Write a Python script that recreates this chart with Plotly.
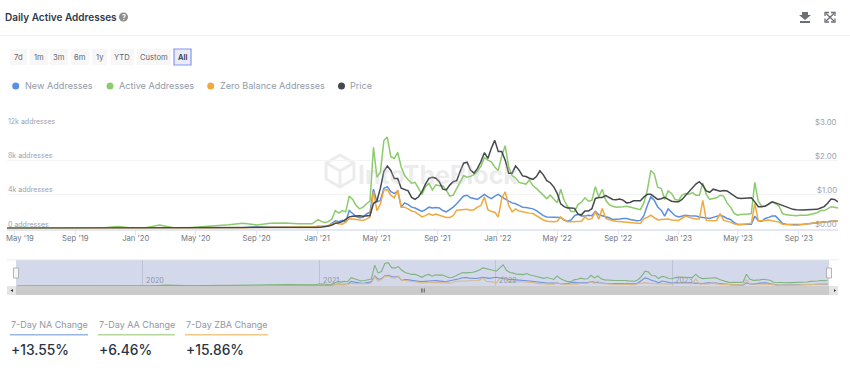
import pandas as pd
import plotly.graph_objects as go

W, H = 850, 375
FONT = "Inter"

early_dates = pd.date_range("2019-04-16", periods=23, freq="28D")
weekly_dates = pd.date_range("2021-01-03", periods=151, freq="7D")
dates = list(early_dates) + list(weekly_dates)

active_early = [30,30,60,40,50,60,40,80,230,60,100,400,90,70,200,300,430,600,420,600,650,560,550]
new_early = [10,10,15,15,20,20,20,20,30,25,40,60,30,30,40,50,70,100,200,150,170,150,150]
zero_early = [60,30,20,20,20,20,20,30,60,25,30,50,20,20,30,60,50,60,120,130,120,180,170]
price_early = [.01,.01,.01,.01,.01,.01,.01,.01,.02,.02,.02,.02,.02,.02,.02,.02,.02,.02,.03,.03,.03,.03,.03]

active_weekly = [1050,800,700,800,1100,2100,1800,2100,1950,3800,3400,2700,2300,2500,2900,3200,9500,6000,6600,10300,
 10700,8400,8200,8900,7200,6200,5700,5300,5400,4700,4000,4900,5300,4500,5100,5000,5000,4500,3800,3900,
 4700,5400,6200,6000,6100,6300,6700,7300,8300,8000,7800,7200,6800,8500,9700,7200,6200,5900,5400,5300,
 5200,5700,5000,4700,4300,3900,3500,3900,3500,3000,4600,3300,2600,2000,2000,2800,3100,3600,3200,3300,
 4900,3700,4600,3300,2800,2600,2500,2500,2550,2600,2500,2350,2250,2200,3000,4500,6800,6400,4800,4700,
 3400,4400,4100,3400,3300,3900,4100,4000,4200,3900,3900,5300,4000,3400,3500,3600,3900,3800,3000,2500,
 1800,1550,1650,1650,1700,1750,5400,3200,2600,2650,2800,3100,2900,2600,1750,1600,1550,1500,1500,1550,
 1550,1550,1650,1750,1850,2100,2100,2300,2550,2500,2400]
new_weekly = [250,230,250,300,550,900,800,950,800,2100,1750,1400,1250,1300,1700,1900,4600,3100,3300,4700,
 4900,4300,4100,4400,2500,3000,2800,2500,2400,2200,2000,2200,2500,2400,2450,2400,2100,1950,2200,2500,
 2900,3300,3800,3900,3600,3500,3400,3700,4000,3700,3500,3800,4000,3700,3400,3200,3000,2900,2700,2500,
 2450,2400,2300,2100,1750,1500,1350,1350,1350,1350,1300,1000,850,1000,1500,1650,1450,1450,1550,1500,
 2000,1600,1500,1400,1250,1050,1050,1100,1170,1170,1050,950,900,950,1500,2700,3700,3300,2500,2150,
 1450,2300,1900,1500,1350,1450,1550,1500,1500,1450,1350,1300,1200,1170,1300,1450,1550,1400,1170,1050,
 700,470,470,480,500,500,1450,900,850,1170,1300,1450,1450,1000,600,500,480,470,470,480,
 500,530,550,580,620,680,720,780,850,880,900]
zero_weekly = [200,180,200,350,500,650,550,500,750,1150,1100,1050,1000,950,1100,1350,4300,2100,2900,4500,
 4550,3900,3600,4500,2500,2500,2300,2050,1950,1600,1350,1500,1750,1550,1700,1550,1400,1300,1300,1500,
 2150,2200,2250,2250,2150,2200,2500,2700,3700,2200,2000,1900,1350,3500,4300,2700,1950,2300,2050,1950,
 1900,1800,1750,1500,1200,1000,850,800,800,850,1350,1000,800,800,800,850,850,1350,1050,1150,
 1950,1100,2350,1170,1000,900,850,800,800,750,700,620,580,580,1150,1300,1550,1300,1000,1050,
 1100,1100,1000,950,950,1200,1450,1300,1200,1100,1100,3300,950,900,900,950,1750,950,850,750,
 550,470,480,520,550,600,2900,950,900,950,1000,900,800,750,500,450,420,400,390,420,
 480,520,580,650,680,720,760,800,850,880,900]
price_weekly = [.03,.04,.05,.07,.10,.15,.17,.20,.27,.34,.36,.37,.37,.36,.36,.38,.73,.81,1.18,1.67,
 1.83,1.70,1.46,1.46,1.18,1.13,1.10,.91,.85,.93,1.08,1.30,1.47,1.50,1.47,1.37,1.15,1.13,1.27,1.37,
 1.40,1.67,1.91,1.94,1.71,1.62,1.76,1.96,2.22,2.05,2.35,2.58,2.25,2.25,2.00,1.62,1.62,1.83,1.71,1.54,
 1.52,1.47,1.44,1.52,1.69,1.57,1.40,1.34,1.22,1.03,.72,.64,.60,.60,.59,.42,.40,.51,.51,.58,
 .88,.91,.91,.96,.90,.85,.84,.86,.83,.75,.76,.81,.81,.81,.92,1.0,1.0,.93,.85,.87,
 .91,.85,.80,.78,.78,.85,.96,1.06,1.18,1.30,1.37,1.27,1.10,1.06,1.15,1.11,1.09,1.11,1.10,1.03,
 .97,.89,.88,.89,.90,.90,.78,.64,.64,.65,.72,.78,.75,.71,.67,.63,.58,.56,.55,.54,
 .54,.55,.55,.54,.56,.60,.64,.74,.86,.85,.78]

active = active_early + active_weekly
new = new_early + new_weekly
zero = zero_early + zero_weekly
price = price_early + price_weekly

title = "Daily Active Addresses"
range_buttons = ["7d", "1m", "3m", "6m", "1y", "YTD", "Custom", "All"]
legend_names = ["New Addresses", "Active Addresses", "Zero Balance Addresses", "Price"]
stat_labels = ["7-Day NA Change", "7-Day AA Change", "7-Day ZBA Change"]
stat_values = ["+13.55%", "+6.46%", "+15.86%"]
first_x_label = "May '19"
x_tickvals = ["2019-05-01","2019-09-01","2020-01-01","2020-05-01","2020-09-01","2021-01-01","2021-05-01",
              "2021-09-01","2022-01-01","2022-05-01","2022-09-01","2023-01-01","2023-05-01","2023-09-01"]
x_ticktext = ["","Sep '19","Jan '20","May '20","Sep '20","Jan '21","May '21",
              "Sep '21","Jan '22","May '22","Sep '22","Jan '23","May '23","Sep '23"]
addr_ticks = [0, 4000, 8000, 12000]
addr_labels = ["0 addresses", "4k addresses", "8k addresses", "12k addresses"]
price_ticks = [0, 1, 2, 3]
price_labels = ["$0.00", "$1.00", "$2.00", "$3.00"]
nav_years = ["2020-01-01", "2021-01-01", "2022-01-01", "2023-01-01"]
nav_labels = ["2020", "2021", "2022", "2023"]

BLUE, GREEN, ORANGE, DARK = "#5b8fe0", "#8ccb6b", "#f0a93f", "#45484c"
COLORS = [BLUE, GREEN, ORANGE, DARK]

def px(x): return x / W
def py(y): return 1 - y / H

fig = go.Figure()
for name, vals, col in [("New Addresses", new, BLUE), ("Active Addresses", active, GREEN), ("Zero Balance Addresses", zero, ORANGE)]:
    fig.add_trace(go.Scatter(x=dates, y=vals, name=name, mode="lines", line=dict(color=col, width=1.5), xaxis="x", yaxis="y"))
fig.add_trace(go.Scatter(x=dates, y=price, name="Price", mode="lines", line=dict(color=DARK, width=1.5), xaxis="x", yaxis="y2"))
for name, vals, col in [("New Addresses", new, "#6f93d8"), ("Zero Balance Addresses", zero, "#d9b98c"), ("Active Addresses", active, "#7fb47f")]:
    fig.add_trace(go.Scatter(x=dates, y=vals, name=name, mode="lines", line=dict(color=col, width=1.1), xaxis="x2", yaxis="y3", showlegend=False))

shapes, ann = [], []
def rect(x0, y0, x1, y1, fill, line=None, lw=0, layer="above"):
    shapes.append(dict(type="rect", xref="paper", yref="paper", x0=px(x0), x1=px(x1), y0=py(y0), y1=py(y1),
                       fillcolor=fill, line=dict(color=line or fill, width=lw), layer=layer))
def text(x, y, s, size=9, color="#8a94a6", anchor="left", weight=400):
    ann.append(dict(xref="paper", yref="paper", x=px(x), y=py(y), text=s, showarrow=False, xanchor=anchor, yanchor="middle",
                    font=dict(family=FONT, size=size, color=color, weight=weight), borderpad=0, borderwidth=0))
def circle(cx, cy, r, fill):
    shapes.append(dict(type="circle", xref="paper", yref="paper", x0=px(cx-r), x1=px(cx+r), y0=py(cy+r), y1=py(cy-r),
                       fillcolor=fill, line=dict(width=0)))
def path(points, color=None, fill=None, width=1, layer="above", close=False):
    d = "M" + " L".join(f"{px(a):.5f},{py(b):.5f}" for a, b in points) + (" Z" if close else "")
    shapes.append(dict(type="path", xref="paper", yref="paper", path=d, fillcolor=fill, line=dict(color=color, width=width if color else 0), layer=layer))

# header
text(5, 17.5, title, size=10, color="#2f3a4c", weight=600)
circle(123.5, 17, 4.5, "#8d8d8d")
text(123.5, 17, "?", size=7, color="#ffffff", anchor="center", weight=700)
rect(0, 35, W, 35.8, "#eeeeee")
# download icon
path([(802,12),(808,12),(808,15),(811,15),(805,20),(799,15),(802,15)], fill="#6b6f76", close=True)
rect(800, 21, 810, 23, "#6b6f76")
# expand icon
for pts in [[(825,16),(825,12.5),(829,12.5)],[(831,12.5),(835,12.5),(835,16)],[(825,18.5),(825,22),(829,22)],[(831,22),(835,22),(835,18.5)],
            [(826,13.5),(834,21)],[(834,13.5),(826,21)]]:
    path(pts, color="#6b6f76", width=1.3)

# range buttons
btn_x = [(10,27),(30,48),(50,68),(71,89),(92,107),(111,134),(137,171),(174,191)]
for lab, (a, b) in zip(range_buttons, btn_x):
    sel = lab == "All"
    rect(a, 49, b, 65, "#e9ecf6" if sel else "#f7f7f7", "#8594ee" if sel else None, 1.2 if sel else 0)
    text((a+b)/2, 57.3, lab, size=7.6, color="#2f3a4c" if sel else "#5f6672", anchor="center", weight=600 if sel else 400)

# legend
for lab, col, cx, tx in zip(legend_names, COLORS, [15.7, 110, 210.7, 341.5], [25, 118.7, 219.7, 350.3]):
    circle(cx, 86, 3.5, col)
    text(tx, 85.5, lab, size=9.1, color="#929aa8")

# watermark
cx, cy, r = 340, 171, 16
hexa = [(cx, cy-r), (cx+r*.87, cy-r/2), (cx+r*.87, cy+r/2), (cx, cy+r), (cx-r*.87, cy+r/2), (cx-r*.87, cy-r/2)]
path(hexa, color="#ececec", width=3, layer="below", close=True)
path([(cx-r*.87, cy-r/2), (cx, cy), (cx+r*.87, cy-r/2)], color="#ececec", width=3, layer="below")
path([(cx, cy), (cx, cy+r)], color="#ececec", width=3, layer="below")
text(438, 175, "IntoTheBlock", size=25, color="rgba(190,190,190,0.3)", anchor="center", weight=700)

# y tick labels sit above their gridlines, at the plot edges
gray = "#9aa2b0"
for v, lab in zip(addr_ticks, addr_labels):
    ann.append(dict(xref="paper", yref="y", x=px(6), y=v, yshift=4.5, text=lab, showarrow=False, xanchor="left", yanchor="middle",
                    font=dict(family=FONT, size=7.0, color=gray)))
for v, lab in zip(price_ticks, price_labels):
    ann.append(dict(xref="paper", yref="y2", x=px(839), y=v, yshift=4.5, text=lab, showarrow=False, xanchor="right", yanchor="middle",
                    font=dict(family=FONT, size=7.8, color=gray)))
text(6, 238.5, first_x_label, size=7.7, color="#6f7682")
# navigator year labels
for d, lab in zip(nav_years, nav_labels):
    ann.append(dict(xref="x2", yref="paper", x=d, y=py(280.3), xshift=1, text=lab, showarrow=False, xanchor="left", yanchor="middle",
                    font=dict(family=FONT, size=7.2, color="#8e96a8")))

# navigator decoration
rect(16, 260, 829, 286, "#d3d9ea", layer="below")
rect(7, 259.5, 838, 260.2, "#e6e6e6", layer="below")
rect(7, 286, 838, 295, "#cbcbcb")
rect(7, 286, 16, 295, "#e4e4e4")
rect(829, 286, 838, 295, "#e4e4e4")
path([(13,289),(13,292),(10.5,290.5)], fill="#333333", close=True)
path([(834,289),(834,292),(836,290.5)], fill="#333333", close=True)
for xx in (421, 422.5, 424):
    rect(xx, 288.5, xx+.7, 292.5, "#555555")
for hx in (16, 829):
    rect(hx-2.5, 268, hx+2.5, 278, "#f6f6f6", "#a3a3a3", 0.8)

# stats
for lab, val, (a, b), col in zip(stat_labels, stat_values, [(10,88),(98,175),(185,268)], ["#9ab6e6","#b3d79c","#f1c785"]):
    text(a+.5, 324, lab, size=9.0, color="#8f97a4")
    rect(a, 334, b, 335.6, col)
    text(a+1, 349.5, val, size=13.8, color="#2b3444", weight=500)

fig.update_layout(
    width=W, height=H, margin=dict(l=0, r=0, t=0, b=0), paper_bgcolor="#ffffff", plot_bgcolor="rgba(0,0,0,0)",
    showlegend=False, font=dict(family=FONT, size=8, color=gray), shapes=shapes, annotations=ann,
    xaxis=dict(domain=[px(7), px(838)], anchor="y", range=["2019-04-16", "2023-11-19"], tickmode="array", tickvals=x_tickvals, ticktext=x_ticktext,
               showgrid=False, zeroline=False, showline=True, linecolor="#e4e8f5", linewidth=1.5, ticks="outside", ticklen=5, tickcolor="#e0e5f5",
               ticklabelstandoff=-3, tickfont=dict(size=7.7, color="#6f7682", family=FONT)),
    yaxis=dict(domain=[py(228.5), py(126)], range=[0, 12000], tickmode="array", tickvals=addr_ticks,
               showgrid=True, gridcolor="#f4f4f4", zeroline=False, ticks="", showticklabels=False, anchor="x"),
    yaxis2=dict(domain=[py(228.5), py(126)], range=[0, 3], overlaying="y", side="right", tickmode="array", tickvals=price_ticks,
                showgrid=False, zeroline=False, ticks="", showticklabels=False, anchor="x"),
    xaxis2=dict(domain=[px(16), px(829)], anchor="y3", range=["2019-04-13", "2023-11-22"], tickmode="array", tickvals=nav_years,
                showgrid=True, gridcolor="#bcc3d6", gridwidth=0.7, zeroline=False, showline=False, ticks="", showticklabels=False),
    yaxis3=dict(domain=[py(286), py(260)], range=[0, 11900], showgrid=False, zeroline=False, showticklabels=False, ticks="", anchor="x2"),
)
fig.write_html("out.html", config=dict(displayModeBar=False), post_script="document.body.style.margin='0';")
